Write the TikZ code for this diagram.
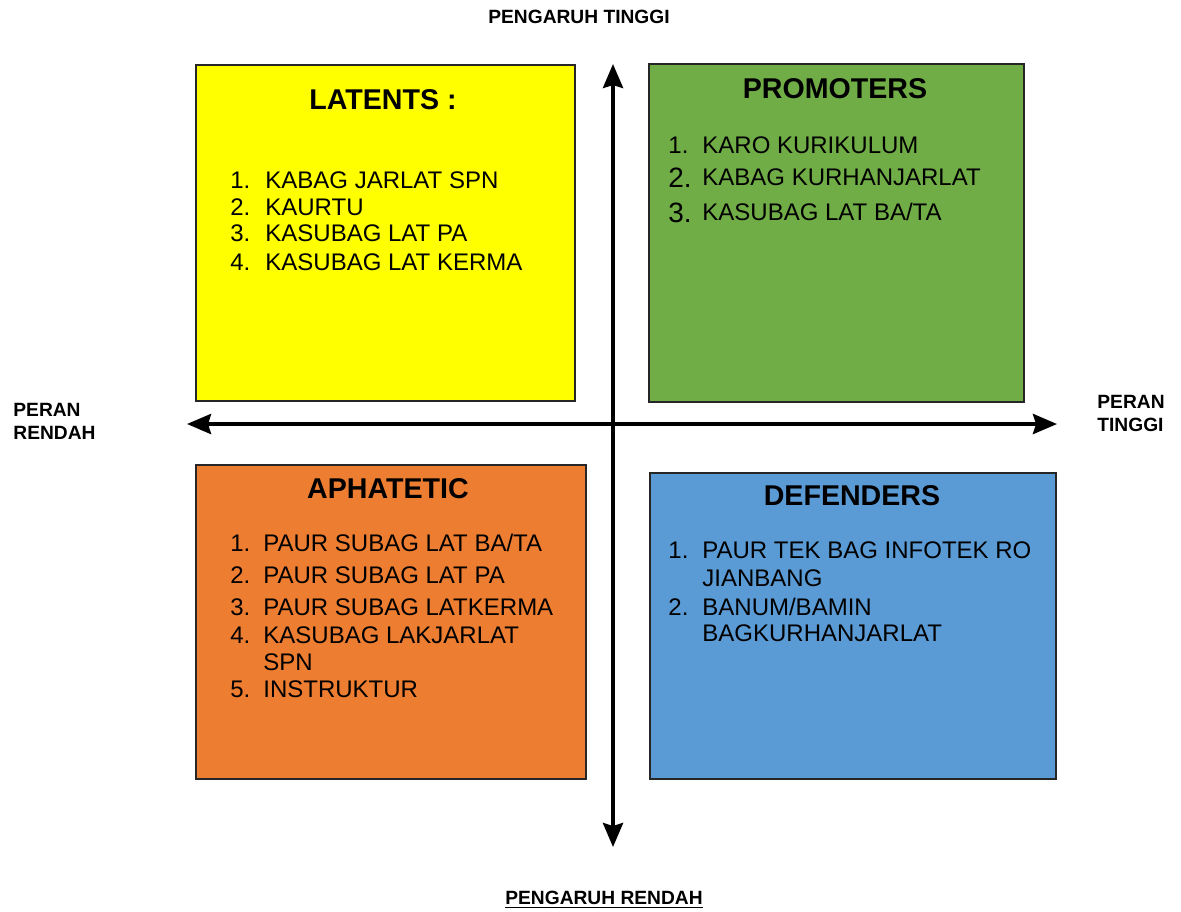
\documentclass[tikz,border=0pt]{standalone}
\usepackage{fontspec}
\setmainfont{Liberation Sans}
\usepackage{tikz}
\usetikzlibrary{arrows.meta}
\definecolor{latentyellow}{HTML}{FFFF00}
\definecolor{promotergreen}{HTML}{70AD47}
\definecolor{apathyorange}{HTML}{ED7D31}
\definecolor{defenderblue}{HTML}{5B9BD5}
\def\numsep{35}
\tikzstyle{arrow} = [line width=2pt,{Stealth[length=12pt,width=10pt,inset=1.5pt]}-{Stealth[length=12pt,width=10pt,inset=1.5pt]}]

\begin{document}
\begin{tikzpicture}[x=0.5pt,y=-0.5pt]
    \tikzstyle{quadrant}=[draw=black!85, line width=1pt, inner sep=0pt, anchor=north west]
    \tikzstyle{title}=[inner sep=0pt, font=\fontsize{14.3}{16}\selectfont\bfseries, text height=10.2pt, text depth=0pt]
    \tikzstyle{item}=[anchor=west, inner sep=0pt, font=\fontsize{12}{14}\selectfont, text height=8.6pt, text depth=0pt]
    \tikzstyle{big item}=[item, font=\fontsize{14}{16}\selectfont, text height=10pt]
    \tikzstyle{axis label}=[inner sep=0pt, font=\fontsize{9.6}{11.5}\selectfont\bfseries]

    \useasboundingbox (0,0) rectangle (1181,911);

    % Draw the four quadrants
    \node[quadrant, fill=latentyellow, minimum width=189.5pt, minimum height=168pt] (latents) at (195,64) {};
    \node[quadrant, fill=promotergreen, minimum width=187.5pt, minimum height=169pt] (promoters) at (648,63) {};
    \node[quadrant, fill=apathyorange, minimum width=195pt, minimum height=157pt] (aphatetic) at (195,464) {};
    \node[quadrant, fill=defenderblue, minimum width=203pt, minimum height=153pt] (defenders) at (649,472) {};

    % Draw the titles
    \node[title] (LT-title) at (383,99) {LATENTS :};
    \node[title] (PR-title) at (835,88) {PROMOTERS};
    \node[title] (AP-title) at (388,488) {APHATETIC};
    \node[title] (DF-title) at (852,495) {DEFENDERS};

    % Latents list
    \foreach \name / \y / \txt in {1/180/{KABAG JARLAT SPN},2/207/{KAURTU},3/233/{KASUBAG LAT PA},4/262/{KASUBAG LAT KERMA}}
    {
        \path node[item] (LT-n\name) at (230,\y) {\name.};
        \path node[item] (LT-\name) at (265,\y) {\txt};
    }

    % Promoters list
    \path node[item] (PR-n1) at (668,145) {1.};
    \path node[item] (PR-1) at (702,145) {KARO KURIKULUM};
    \foreach \name / \y / \txt in {2/177/{KABAG KURHANJARLAT},3/212/{KASUBAG LAT BA/TA}}
    {
        \path node[big item] (PR-n\name) at (668,\y) {\name.};
        \path node[item] (PR-\name) at (702,\y) {\txt};
    }

    % Aphatetic list
    \foreach \name / \y / \txt in {1/543/{PAUR SUBAG LAT BA/TA},2/575/{PAUR SUBAG LAT PA},3/607/{PAUR SUBAG LATKERMA},4/635/{KASUBAG LAKJARLAT},5/689/{INSTRUKTUR}}
    {
        \path node[item] (AP-n\name) at (230,\y) {\name.};
        \path node[item] (AP-\name) at (263,\y) {\txt};
    }
    \path node[item] (AP-4b) at (263,662) {SPN};

    % Defenders list
    \foreach \name / \y / \txt in {1/550/{PAUR TEK BAG INFOTEK RO},2/607/{BANUM/BAMIN}}
    {
        \path node[item] (DF-n\name) at (668,\y) {\name.};
        \path node[item] (DF-\name) at (702,\y) {\txt};
    }
    \path node[item] (DF-1b) at (702,578) {JIANBANG};
    \path node[item] (DF-2b) at (702,633) {BAGKURHANJARLAT};

    % Draw the axes
    \coordinate (W) at (187,424);
    \coordinate (E) at (1057,424);
    \coordinate (N) at (613,64);
    \coordinate (S) at (613,847);
    \draw[arrow] (W) -- (E);
    \draw[arrow] (N) -- (S);

    % Axis labels
    \node[axis label] (top) at (579,17) {PENGARUH TINGGI};
    \node[axis label] (bottom) at (604,900) {\underline{PENGARUH RENDAH}};
    \node[axis label, align=left, anchor=north west] (left) at (13,403) {PERAN\\RENDAH};
    \node[axis label, align=left, anchor=north west] (right) at (1097,395) {PERAN\\TINGGI};
\end{tikzpicture}
\end{document}
